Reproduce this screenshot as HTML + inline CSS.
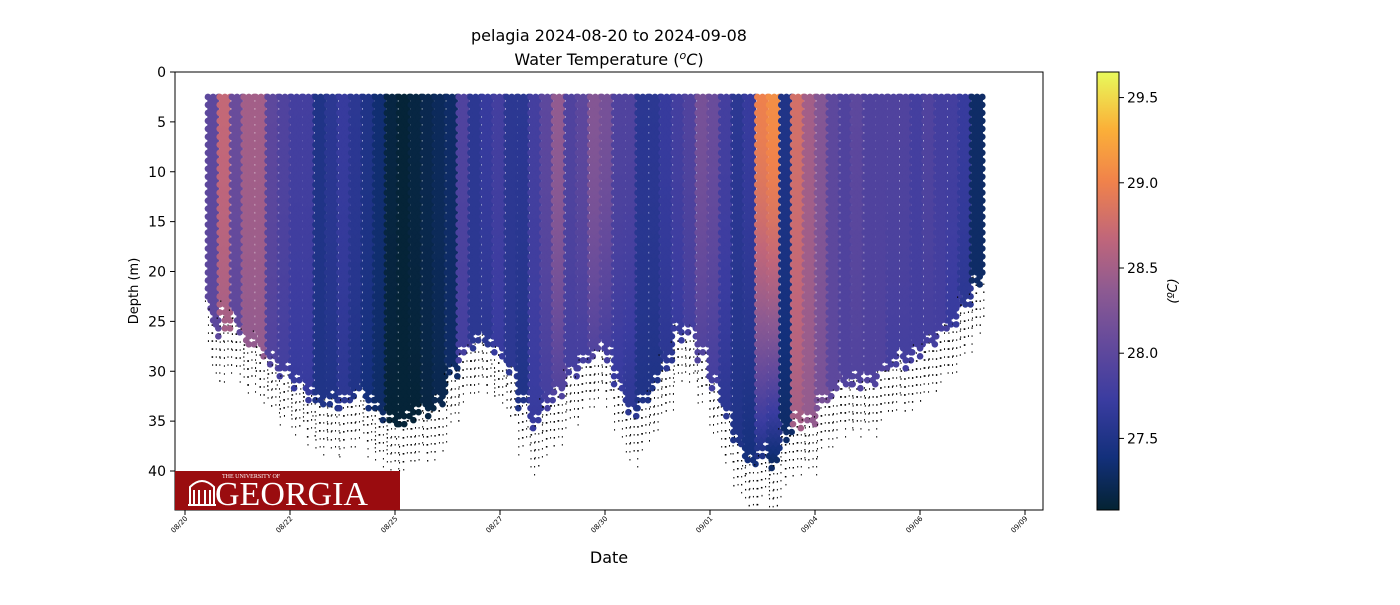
<!DOCTYPE html>
<html><head><meta charset="utf-8">
<style>
body{margin:0;background:#fff;font-family:"Liberation Sans","DejaVu Sans",sans-serif;}
svg text{font-family:"DejaVu Sans","Liberation Sans",sans-serif;}
svg text.serif{font-family:"Liberation Serif","DejaVu Serif",serif;}
</style></head>
<body>
<svg id="chart" width="1400" height="600" xmlns="http://www.w3.org/2000/svg">
<defs>
<linearGradient id="cmap" x1="0" y1="1" x2="0" y2="0">
<stop offset="0" stop-color="#042333"/><stop offset="0.12" stop-color="#13307b"/>
<stop offset="0.25" stop-color="#3a3ca0"/><stop offset="0.38" stop-color="#644a9c"/>
<stop offset="0.5" stop-color="#8d5a92"/><stop offset="0.62" stop-color="#c0667a"/>
<stop offset="0.75" stop-color="#f0824b"/><stop offset="0.87" stop-color="#fbb038"/>
<stop offset="1" stop-color="#e8fa5b"/>
</linearGradient>
<clipPath id="plotclip"><rect x="175" y="72" width="868" height="438"/></clipPath>
</defs>
<text x="609" y="41" font-size="16" text-anchor="middle">pelagia 2024-08-20 to 2024-09-08</text>
<text x="609" y="65" font-size="16" text-anchor="middle">Water Temperature (<tspan font-style="italic" font-size="11" dy="-6">o</tspan><tspan font-style="italic" dy="6">C</tspan>)</text>
<g id="dots" clip-path="url(#plotclip)"></g>
<rect x="175" y="72" width="868" height="438" fill="none" stroke="#000" stroke-width="1"/>
<g id="yaxis"></g><g id="xaxis"></g>
<text transform="translate(138,291) rotate(-90)" font-size="13" text-anchor="middle">Depth (m)</text>
<text x="609" y="563" font-size="16" text-anchor="middle">Date</text>
<g>
<rect x="175" y="471" width="225" height="39" fill="#9a0c0f"/>
<text class="serif" x="222" y="478" font-size="6" fill="#fff">THE UNIVERSITY OF</text>
<text class="serif" x="215" y="505" font-size="34" fill="#fff">GEORGIA</text>
<path d="M190 505 v-18 q12 -12 24 0 v18 M194 505 v-15 M199 505 v-15 M205 505 v-15 M210 505 v-15 M188 505 h28" stroke="#fff" stroke-width="2" fill="none"/>
</g>
<rect x="1097" y="72" width="22" height="438" fill="url(#cmap)" stroke="#000" stroke-width="1"/>
<g id="cbaxis"></g>
<text transform="translate(1177,291) rotate(-90)" font-size="13" text-anchor="middle" font-style="italic">(ºC)</text>
</svg>
<script>
const castDays=[0.67,0.95,1.24,1.52,1.81,2.09,2.38,2.66,2.94,3.23,3.51,3.80,4.08,4.37,4.65,4.93,5.22,5.50,5.79,6.07,6.36,6.64,6.92,7.21,7.49,7.78,8.06,8.35,8.63,8.91,9.20,9.48,9.77,10.05,10.34,10.62,10.90,11.19,11.47,11.76,12.04,12.33,12.61,12.89,13.18,13.46,13.75,14.03,14.32,14.60,14.88,15.17,15.45,15.74,16.02,16.31,16.59,16.87,17.16,17.44,17.73,18.01,18.30,18.58,18.86];
const castTopTemp=[28.0,28.7,28.1,28.5,28.5,28.0,27.9,27.8,27.8,27.5,27.6,27.7,27.6,27.5,27.35,27.15,27.1,27.15,27.2,27.25,27.3,27.9,27.6,27.7,27.8,27.6,27.6,27.8,28.0,28.4,27.9,28.0,28.3,28.2,27.9,27.9,27.6,27.6,27.7,27.8,27.9,28.2,28.1,27.8,27.6,27.7,29.0,29.1,27.5,28.8,28.5,28.3,28.0,27.9,28.0,27.9,27.9,27.9,27.9,27.8,27.9,27.8,27.8,27.7,27.3];
const castBottomTemp=[28.0,28.5,28.0,28.4,28.4,27.9,27.8,27.7,27.7,27.5,27.5,27.6,27.5,27.4,27.3,27.1,27.1,27.1,27.15,27.2,27.3,27.8,27.6,27.6,27.7,27.6,27.5,27.7,27.8,27.9,27.8,27.8,27.9,27.8,27.7,27.6,27.5,27.5,27.6,27.7,27.8,27.9,27.8,27.6,27.5,27.4,27.5,27.3,27.3,28.5,28.4,28.2,28.0,27.9,27.9,27.9,27.9,27.8,27.8,27.8,27.8,27.8,27.7,27.6,27.3];
const castMaxDepth=[26,26,26,27,28,29,30,31,32,33,33,33,32,33,34,35,35,34,34,33,30,28,27,27,28,30,33,35,33,32,30,29,28,28,31,34,33,31,29,26,26,28,31,34,37,39,38,39,36,35,35,33,32,31,31,31,30,29,29,28,27,26,25,23,21];
const yTicks=[0,5,10,15,20,25,30,35,40];
const xTickDays=[0,2.5,5,7.5,10,12.5,15,17.5,20];
const xTickLabels=["08/20","08/22","08/25","08/27","08/30","09/01","09/04","09/06","09/09"];
const cbTicks=[27.5,28.0,28.5,29.0,29.5];

const NS="http://www.w3.org/2000/svg";
const xS=d=>185+d*42;
const yS=m=>72+m*9.975;
const cMin=27.08,cMax=29.65;
const cbY=t=>510-(t-cMin)/(cMax-cMin)*438;
const stops=[[0,[4,35,51]],[0.12,[19,48,123]],[0.25,[58,60,160]],[0.38,[100,74,156]],[0.5,[141,90,146]],[0.62,[192,102,122]],[0.75,[240,130,75]],[0.87,[251,176,56]],[1,[232,250,91]]];
function color(t){let f=Math.max(0,Math.min(1,(t-cMin)/(cMax-cMin)));for(let i=1;i<stops.length;i++){if(f<=stops[i][0]){const a=stops[i-1],b=stops[i],u=(f-a[0])/(b[0]-a[0]);return 'rgb('+a[1].map((v,k)=>Math.round(v+(b[1][k]-v)*u)).join(',')+')';}}return 'rgb(232,250,91)';}
function mk(tag,attrs,parent){const e=document.createElementNS(NS,tag);for(const k in attrs)e.setAttribute(k,attrs[k]);parent.appendChild(e);return e;}
const dots=document.getElementById('dots');
const n=Math.min(castDays.length,castTopTemp.length,castBottomTemp.length,castMaxDepth.length);
for(let i=0;i<n;i++){
  const cx=xS(castDays[i]),md=castMaxDepth[i];
  const g=mk('g',{},dots);
  
  
  for(let s=-2;s<=2;s++){
    const mdj=md+((s*7+i*3)%5-2)*0.5;
    for(let d=2.5+(s&1)*0.4;d<=mdj;d+=0.8){
      const f=Math.min(1,d/Math.max(md,1));
      const t=castTopTemp[i]+(castBottomTemp[i]-castTopTemp[i])*f*f;
      mk('circle',{cx:cx+s*2.6,cy:yS(d),r:3.3,fill:color(t)},g);
    }
    for(let k=0;k<7;k++){const d=mdj+0.3+k*0.6+((k*5+s*3+i)%4)*0.2;
      mk('rect',{x:cx+s*2.6+((k*3+s)%3)-1,y:yS(d),width:1,height:1.5,fill:'#000'},g);}
  }
}
const ya=document.getElementById('yaxis');
yTicks.forEach(v=>{const y=yS(v);
 const l=mk('line',{x1:170,x2:175,y1:y,y2:y,stroke:'#000'},ya);
 
 const t=mk('text',{x:166,y:y+5,'font-size':14,'text-anchor':'end'},ya);t.textContent=v;
 });
const xa=document.getElementById('xaxis');
xTickDays.forEach((d,i)=>{const x=xS(d);
 const l=mk('line',{x1:x,x2:x,y1:510,y2:515,stroke:'#000'},xa);
 
 const t=mk('text',{transform:`translate(${x+3},${519}) rotate(-45)`,'font-size':7,'text-anchor':'end'},xa);t.textContent=xTickLabels[i];
 });
const cb=document.getElementById('cbaxis');
cbTicks.forEach(v=>{const y=cbY(v);
 const l=mk('line',{x1:1119,x2:1124,y1:y,y2:y,stroke:'#000'},cb);
 
 const t=mk('text',{x:1127,y:y+5,'font-size':14},cb);t.textContent=v.toFixed(1);
 });
</script>
</body></html>
